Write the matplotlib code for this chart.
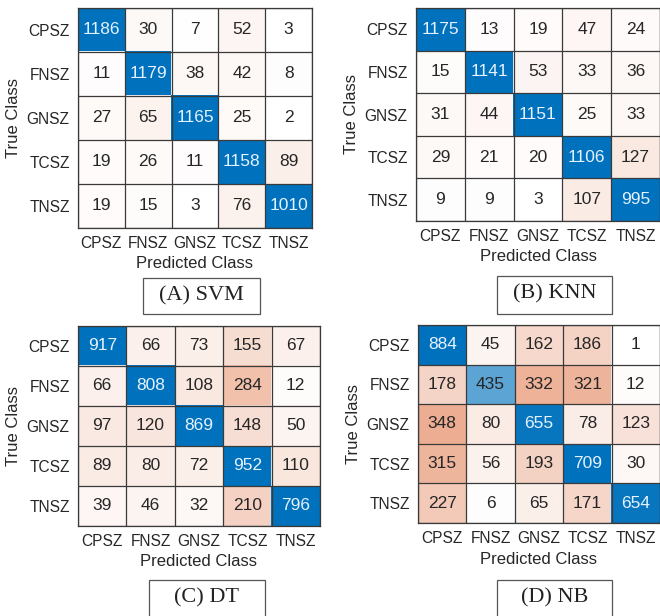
import numpy as np
import matplotlib.pyplot as plt
from matplotlib.colors import LinearSegmentedColormap, Normalize
from matplotlib.patches import Rectangle

classes = ["CPSZ", "FNSZ", "GNSZ", "TCSZ", "TNSZ"]

svm = [[1186, 30, 7, 52, 3],
       [11, 1179, 38, 42, 8],
       [27, 65, 1165, 25, 2],
       [19, 26, 11, 1158, 89],
       [19, 15, 3, 76, 1010]]
knn = [[1175, 13, 19, 47, 24],
       [15, 1141, 53, 33, 36],
       [31, 44, 1151, 25, 33],
       [29, 21, 20, 1106, 127],
       [9, 9, 3, 107, 995]]
dt = [[917, 66, 73, 155, 67],
      [66, 808, 108, 284, 12],
      [97, 120, 869, 148, 50],
      [89, 80, 72, 952, 110],
      [39, 46, 32, 210, 796]]
nb = [[884, 45, 162, 186, 1],
      [178, 435, 332, 321, 12],
      [348, 80, 655, 78, 123],
      [315, 56, 193, 709, 30],
      [227, 6, 65, 171, 654]]
captions = ["(A) SVM", "(B) KNN", "(C) DT", "(D) NB"]

W, H = 660, 616
fig = plt.figure(figsize=(W / 100, H / 100), dpi=100)
plt.rcParams['font.family'] = ['Liberation Sans', 'DejaVu Sans']

blue = LinearSegmentedColormap.from_list("b", ["white", (0.0, 0.447, 0.741)])
orange = LinearSegmentedColormap.from_list("o", ["white", (0.85, 0.325, 0.098)])
txt = (0.15, 0.15, 0.15)

# panel boxes in pixels: left, right, top, bottom
boxes = [(78, 312, 8, 228), (416, 660, 8, 221), (78, 320, 326, 526), (418, 660, 325, 523)]
# caption boxes: left, right, top, bottom
cap_boxes = [(143, 260, 278, 314), (497, 612, 276, 314), (149, 265, 580, 620), (497, 612, 580, 620)]


def draw(mat, box, cap, cbox):
    m = np.array(mat, dtype=float)
    l, r, t, b = box
    ax = fig.add_axes([l / W, 1 - b / H, (r - l) / W, (b - t) / H])
    diag = np.eye(5, dtype=bool)
    norm = Normalize(0, m.max() / 1.3)
    ax.imshow(np.ma.masked_where(diag, m), cmap=orange, norm=norm, aspect='auto', alpha=0.92)
    ax.imshow(np.ma.masked_where(~diag, m), cmap=blue, norm=norm, aspect='auto')
    for i in range(5):
        for j in range(5):
            v = m[i, j]
            c = (0.9, 0.95, 1.0) if (i == j and norm(v) > 0.75) else txt
            ax.text(j, i, "%d" % v, ha='center', va='center', fontsize=12.5, color=c)
    ax.set_xticks(range(5))
    ax.set_yticks(range(5))
    ax.set_xticklabels(classes, fontsize=11.2, color=txt)
    ax.set_yticklabels(classes, fontsize=11.2, color=txt)
    ax.tick_params(length=0, pad=6)
    ax.set_xticks(np.arange(-0.5, 5), minor=True)
    ax.set_yticks(np.arange(-0.5, 5), minor=True)
    ax.tick_params(which='minor', length=0)
    ax.grid(which='minor', color='#3a3a3a', linewidth=0.9)
    for s in ax.spines.values():
        s.set_color('#3a3a3a')
        s.set_linewidth(0.9)
    cx = (l + r) / 2
    fig.text(cx / W, 1 - (b + 36) / H, "Predicted Class", ha='center', va='center',
             fontsize=12, color=txt)
    fig.text((l - 64) / W, 1 - ((t + b) / 2) / H, "True Class", ha='center', va='center',
             rotation=90, fontsize=12, color=txt)
    cl, cr, ct, cb = cbox
    fig.patches.append(Rectangle((cl / W, 1 - cb / H), (cr - cl) / W, (cb - ct) / H,
                                 transform=fig.transFigure, fill=False,
                                 edgecolor='#555555', linewidth=0.9))
    fig.text((cl + cr) / 2 / W, 1 - (ct + 18) / H, cap, ha='center', va='center',
             fontsize=16, family=['Liberation Serif', 'DejaVu Serif'], color='#222222')


for mat, box, cap, cbox in zip([svm, knn, dt, nb], boxes, captions, cap_boxes):
    draw(mat, box, cap, cbox)

fig.savefig("out.png", dpi=100)
